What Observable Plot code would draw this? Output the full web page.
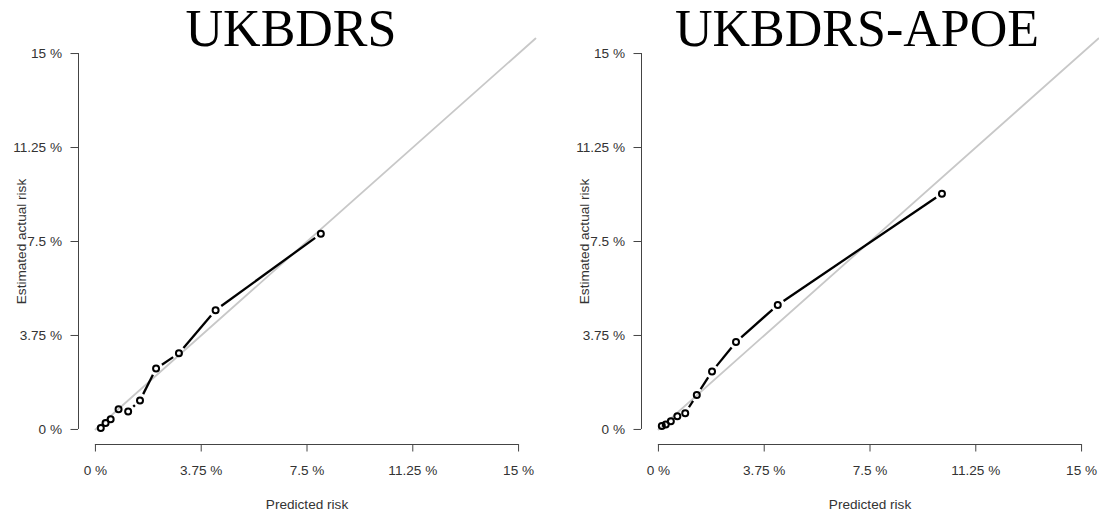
<!DOCTYPE html>
<html>
<head>
<meta charset="utf-8">
<script src="https://cdn.jsdelivr.net/npm/d3@7"></script>
<script src="https://cdn.jsdelivr.net/npm/@observablehq/plot@0.6"></script>
<style>
  html, body { margin: 0; padding: 0; background: #fff; }
  #row { display: flex; width: 1099px; height: 519px; }
  g[aria-label$="tick label"] { font-size: 13.6px; }
</style>
</head>
<body>
<div id="row"></div>
<script>
// ---- data ----
const xTicks = [0, 0.0375, 0.075, 0.1125, 0.15];
const tickLabels = ["0 %", "3.75 %", "7.5 %", "11.25 %", "15 %"];

const ukbdrsPredicted = [0.0019, 0.0036, 0.0054, 0.0082, 0.0116, 0.0158, 0.0215, 0.0296, 0.0426, 0.0799];
const ukbdrsObserved  = [0.0006, 0.0026, 0.0041, 0.0081, 0.0072, 0.0116, 0.0243, 0.0304, 0.0476, 0.0781];

const apoePredicted = [0.0012, 0.0026, 0.0044, 0.0067, 0.0095, 0.0136, 0.0190, 0.0275, 0.0423, 0.1005];
const apoeObserved  = [0.0014, 0.0020, 0.0033, 0.0053, 0.0065, 0.0138, 0.0231, 0.0349, 0.0497, 0.0941];

const titles = ["UKBDRS", "UKBDRS-APOE"];
const xLabel = "Predicted risk";
const yLabel = "Estimated actual risk";

// ---- drawing ----
function panel({title, pred, obs, width, marginRight, titleDx}) {
  const height = 519, marginLeft = 78, marginTop = 38, marginBottom = 75;
  const pad = (xTicks[4] - xTicks[0]) * 0.04;           // R-style 4% axis extension
  const domain = [xTicks[0] - pad, xTicks[4] + pad];
  const sx = Plot.scale({x: {domain, range: [marginLeft, width - marginRight]}});
  const sy = Plot.scale({y: {domain, range: [height - marginBottom, marginTop]}});

  const pts = pred.map((p, i) => ({p, o: obs[i]}));
  // type="b": segments between consecutive points, with a gap around each point
  const gap = 7;
  const segs = [];
  for (let i = 0; i < pts.length - 1; i++) {
    const a = pts[i], b = pts[i + 1];
    const dx = sx.apply(b.p) - sx.apply(a.p), dy = sy.apply(b.o) - sy.apply(a.o);
    const d = Math.hypot(dx, dy);
    if (d <= 2 * gap) continue;
    const t = gap / d;
    segs.push({
      x1: a.p + t * (b.p - a.p), y1: a.o + t * (b.o - a.o),
      x2: b.p - t * (b.p - a.p), y2: b.o - t * (b.o - a.o)
    });
  }
  const diag = [{v: 0}, {v: domain[1]}];
  const xAxisLine = [{y: domain[0], x1: xTicks[0], x2: xTicks[4]}];
  const yAxisLine = [{x: domain[0], y1: xTicks[0], y2: xTicks[4]}];

  return Plot.plot({
    width, height, marginLeft, marginRight, marginTop, marginBottom,
    style: {fontFamily: "'Liberation Sans', Arial, sans-serif", fontSize: "13.6px", color: "#333", background: "#fff", overflow: "visible"},
    x: {domain},
    y: {domain},
    marks: [
      Plot.line(diag, {x: "v", y: "v", stroke: "#c8c8c8", strokeWidth: 1.8}),
      Plot.link(segs, {x1: "x1", y1: "y1", x2: "x2", y2: "y2", stroke: "#000", strokeWidth: 2.3}),
      Plot.dot(pts, {x: "p", y: "o", r: 3, stroke: "#000", strokeWidth: 2, fill: "none"}),
      Plot.ruleY(xAxisLine, {y: "y", x1: "x1", x2: "x2", stroke: "#444", strokeWidth: 1}),
      Plot.ruleX(yAxisLine, {x: "x", y1: "y1", y2: "y2", stroke: "#444", strokeWidth: 1}),
      Plot.axisX({ticks: xTicks, tickFormat: d => tickLabels[xTicks.indexOf(d)], tickSize: 7.5, tickPadding: 13, stroke: "#444", fill: "#333", fontSize: 13.6, label: null, anchor: "bottom"}),
      Plot.axisY({ticks: xTicks, tickFormat: d => tickLabels[xTicks.indexOf(d)], tickSize: 7.5, tickPadding: 9, stroke: "#444", fill: "#333", fontSize: 13.6, label: null, anchor: "left"}),
      Plot.text([xLabel], {text: d => d, frameAnchor: "bottom", dy: 60, lineAnchor: "middle", textAnchor: "middle", fill: "#333", fontSize: 13.6}),
      Plot.text([yLabel], {text: d => d, frameAnchor: "left", dx: -57, rotate: -90, lineAnchor: "middle", textAnchor: "middle", fill: "#333", fontSize: 13.6}),
      Plot.text([title], {text: d => d, frameAnchor: "top", dx: titleDx, dy: 7, lineAnchor: "bottom", textAnchor: "middle", fill: "#000", fontSize: 52, fontFamily: "'Liberation Serif', 'Times New Roman', serif"})
    ]
  });
}

const row = document.getElementById("row");
row.appendChild(panel({title: titles[0], pred: ukbdrsPredicted, obs: ukbdrsObserved, width: 563, marginRight: 28, titleDx: -16}));
row.appendChild(panel({title: titles[1], pred: apoePredicted, obs: apoeObserved, width: 536, marginRight: 1, titleDx: -13}));
</script>
</body>
</html>
